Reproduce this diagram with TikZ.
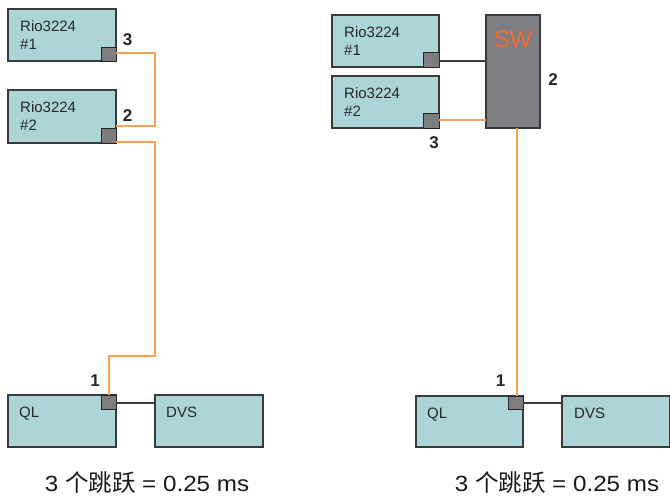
\documentclass[tikz,border=0pt]{standalone}
\usepackage{fontspec}
\setmainfont{Liberation Sans}
\newfontfamily\cjk{Noto Sans CJK SC}
\newfontfamily\capfont[FakeStretch=1.1]{Liberation Sans}
\definecolor{boxfill}{HTML}{ACD5D8}
\definecolor{boxdraw}{HTML}{3A3A3A}
\definecolor{portfill}{HTML}{7D7D80}
\definecolor{swfill}{HTML}{7F7F83}
\definecolor{orangeline}{HTML}{F6A157}
\definecolor{swtext}{HTML}{F06A31}
\newcommand{\hopcaption}{3 {\cjk\fontsize{23.5}{26}\selectfont 个跳跃} = 0.25 ms}
\begin{document}
\begin{tikzpicture}[x=1pt,y=-1pt,
  devbox/.style={draw=boxdraw,fill=boxfill,line width=1.1pt,inner sep=0pt},
  portbox/.style={draw=black!85,fill=portfill,line width=1pt,inner sep=0pt},
  swbox/.style={draw=boxdraw,fill=swfill,line width=1.1pt,inner sep=0pt},
  devtext/.style={inner sep=0pt,anchor=base west,align=left,font=\fontsize{15}{18}\selectfont,text=black!85},
  hoplabel/.style={inner sep=0pt,font=\fontsize{17}{20}\selectfont\bfseries,text=black!85},
  caption/.style={inner sep=0pt,anchor=base,font=\capfont\fontsize{22}{26}\selectfont,text=black!90},
  orangewire/.style={draw=orangeline,line width=1.1pt},
  blackwire/.style={draw=boxdraw,line width=1.1pt}]
\useasboundingbox (0,0) rectangle (670,496);
% ---------- left ----------
\path[devbox] (8,9) rectangle (116,61);
\node[devtext] (r1lt) at (20,49.5) {Rio3224\\\#1};
\path[portbox] (101,47) rectangle (116,61);
\coordinate (r1lp) at (116,53);
\path[devbox] (8,90) rectangle (116,143);
\node[devtext] (r2lt) at (20,130.5) {Rio3224\\\#2};
\path[portbox] (101,128) rectangle (116,143);
\coordinate (r2lin) at (116,126);
\coordinate (r2lp) at (116,142);
\path[devbox] (8,395) rectangle (116,447);
\node[devtext] (qllt) at (19,417) {QL};
\path[portbox] (101,395) rectangle (116,409);
\coordinate (qllp) at (109,395);
\coordinate (qllr) at (116,403);
\path[devbox] (155,395) rectangle (263,447);
\node[devtext] (dvslt) at (166,417) {DVS};
\coordinate (dvsll) at (155,403);
\draw[orangewire] (r1lp) -| (155,126) -- (r2lin);
\draw[orangewire] (r2lp) -| (155,356) -| (qllp);
\draw[blackwire] (qllr) -- (dvsll);
\node[hoplabel] (l3) at (127.5,39.5) {3};
\node[hoplabel] (l2) at (127.5,116) {2};
\node[hoplabel] (l1) at (95,381) {1};
\node[caption] (capl) at (147,491.5) {\hopcaption};
% ---------- right ----------
\path[devbox] (332,15) rectangle (439,67);
\node[devtext] (r1rt) at (344,55.5) {Rio3224\\\#1};
\path[portbox] (423,52) rectangle (439,67);
\coordinate (r1rp) at (439,61);
\path[devbox] (332,76) rectangle (439,128);
\node[devtext] (r2rt) at (344,116.5) {Rio3224\\\#2};
\path[portbox] (423,113) rectangle (439,128);
\coordinate (r2rp) at (439,120);
\path[swbox] (486,15) rectangle (540,128);
\node[inner sep=0pt,font=\fontsize{23.5}{26}\selectfont,text=swtext] (swt) at (513,39) {SW};
\coordinate (swl1) at (486,61);
\coordinate (swl2) at (486,120);
\coordinate (swb) at (517,128);
\path[devbox] (416,396) rectangle (523,447);
\node[devtext] (qlrt) at (427,418) {QL};
\path[portbox] (508,396) rectangle (523,409);
\coordinate (qlrp) at (517,396);
\coordinate (qlrr) at (523,403);
\path[devbox] (562,396) rectangle (669.4,447);
\node[devtext] (dvsrt) at (574,418) {DVS};
\coordinate (dvsrl) at (562,403);
\draw[blackwire] (r1rp) -- (swl1);
\draw[orangewire] (r2rp) -- (swl2);
\draw[orangewire] (swb) -- (qlrp);
\draw[blackwire] (qlrr) -- (dvsrl);
\node[hoplabel] (r2lab) at (553,79.5) {2};
\node[hoplabel] (r3lab) at (434,143) {3};
\node[hoplabel] (r1lab) at (500.5,381) {1};
\node[caption] (capr) at (557,491.5) {\hopcaption};
\end{tikzpicture}
\end{document}
